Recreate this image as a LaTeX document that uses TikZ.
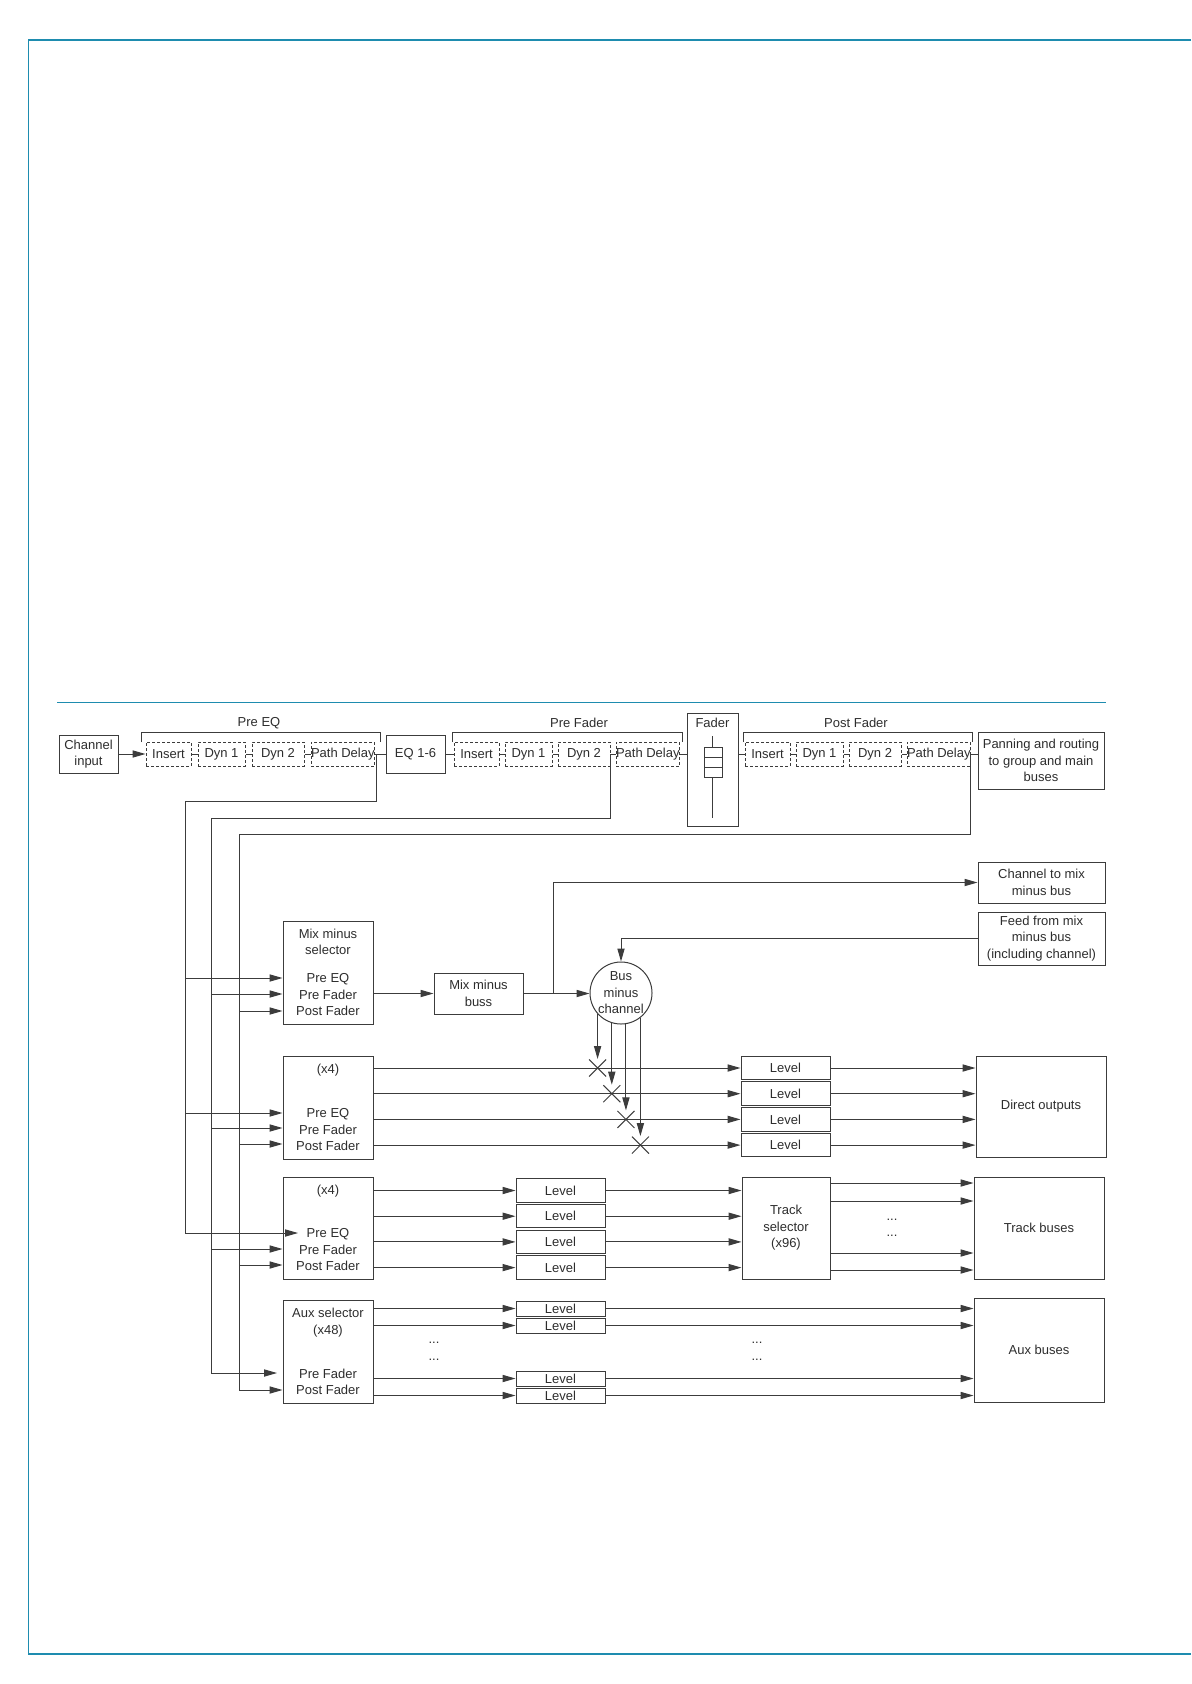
\documentclass[tikz,border=0pt]{standalone}
\usepackage{fontspec}
\setmainfont{Liberation Sans}
\usepackage{xcolor}
\usepackage{tikz}
\usetikzlibrary{positioning,arrows.meta,calc}
\definecolor{frameblue}{RGB}{30,140,175}
\definecolor{linegray}{RGB}{60,60,60}
\definecolor{textgray}{RGB}{45,45,45}
\newcommand{\blockfont}{\fontsize{6.5pt}{8.25pt}\selectfont}
\tikzset{
  block-node/.style={draw=linegray, line width=0.5pt, font=\blockfont, text=textgray,
    align=center, inner sep=0pt},
  insert-node/.style={draw=linegray, line width=0.5pt, dash pattern=on 1.5pt off 1pt,
    font=\blockfont, text=textgray, minimum height=12pt, inner sep=0pt},
  level-node/.style={block-node, minimum width=44.5pt, minimum height=11.75pt},
  small-level-node/.style={block-node, minimum width=44.5pt, minimum height=7.5pt},
  selector-node/.style={block-node, minimum width=45pt, minimum height=51.5pt},
  bus-node/.style={block-node, minimum width=65pt, minimum height=51pt},
  label-text/.style={font=\blockfont, text=textgray, inner sep=0pt},
  flow-arrow/.style={-{Triangle[length=6.5pt, width=3.6pt]}, line width=0.5pt, draw=linegray},
  plain-line/.style={line width=0.5pt, draw=linegray},
  frame-line/.style={draw=frameblue, line width=0.6pt}
}

\begin{document}
\begin{tikzpicture}[x=0.5pt, y=-0.5pt]
\useasboundingbox (0,0) rectangle (1191,1684);

% Page frame and rule
\draw[frame-line] (1191,40) -- (28,40);
\draw[frame-line, line width=0.4pt] (28,40) -- (28,1654);
\draw[frame-line] (28,1654) -- (1191,1654);
\draw[frame-line, line width=0.5pt] (57,702) -- (1106,702);

% Top row: processing chain
\node[block-node, minimum width=29.5pt, minimum height=19pt] (chin) at (88.5,754) {Channel\\input};

\node[insert-node, minimum width=22.5pt] (ins-a) at (168.5,754) {Insert};
\node[insert-node, minimum width=23.5pt, right=3pt of ins-a] (dyn1-a) {Dyn 1};
\node[insert-node, minimum width=26pt, right=3pt of dyn1-a] (dyn2-a) {Dyn 2};
\node[insert-node, minimum width=31.5pt, right=3pt of dyn2-a] (delay-a) {Path Delay};

\node[block-node, minimum width=29.5pt, minimum height=19pt] (eq) at (415.5,754) {EQ 1-6};

\node[insert-node, minimum width=22.5pt] (ins-b) at (476.5,754) {Insert};
\node[insert-node, minimum width=23.5pt, right=2.5pt of ins-b] (dyn1-b) {Dyn 1};
\node[insert-node, minimum width=26pt, right=2.5pt of dyn1-b] (dyn2-b) {Dyn 2};
\node[insert-node, minimum width=31.5pt, right=2.5pt of dyn2-b] (delay-b) {Path Delay};

\node[block-node, minimum width=25.5pt, minimum height=56.5pt] (fader) at (712.5,769.5) {};
\node[label-text] (fader-label) at (712.5,723) {Fader};

\node[insert-node, minimum width=22.5pt] (ins-c) at (767.5,754) {Insert};
\node[insert-node, minimum width=23.5pt, right=2.5pt of ins-c] (dyn1-c) {Dyn 1};
\node[insert-node, minimum width=26pt, right=2.5pt of dyn1-c] (dyn2-c) {Dyn 2};
\node[insert-node, minimum width=31.5pt, right=2.5pt of dyn2-c] (delay-c) {Path Delay};

\node[block-node, minimum width=63pt, minimum height=28.5pt] (pan) at (1041,760.5)
  {Panning and routing\\to group and main\\buses};

% Group brackets
\draw[plain-line] (141,742) -- (141,732) -- (380,732) -- (380,742);
\draw[plain-line] (452,742) -- (452,732) -- (682,732) -- (682,742);
\draw[plain-line] (743,742) -- (743,732) -- (972,732) -- (972,742);
\node[label-text] (pre-eq-label) at (259,723) {Pre EQ};
\node[label-text] (pre-fader-label) at (579,723) {Pre Fader};
\node[label-text] (post-fader-label) at (856,723) {Post Fader};

% Fader slider
\draw[plain-line] (712,736) -- (712,818);
\draw[plain-line, fill=white] (704,747) rectangle (722,777);
\draw[plain-line] (704,757) -- (722,757) (704,767) -- (722,767);

% Chain links
\draw[flow-arrow] (chin.east) -- (ins-a.west);
\draw[plain-line] (ins-a) -- (dyn1-a) -- (dyn2-a) -- (delay-a) -- (eq);
\draw[plain-line] (eq) -- (ins-b) -- (dyn1-b) -- (dyn2-b) -- (delay-b);
\draw[plain-line] (delay-b.east) -- (delay-b.east -| fader.west);
\draw[plain-line] (fader.east |- ins-c) -- (ins-c.west);
\draw[plain-line] (ins-c) -- (dyn1-c) -- (dyn2-c) -- (delay-c);
\draw[plain-line] (delay-c.east) -- (delay-c.east -| pan.west);

% Tap points and feed lines
\coordinate (tap-a) at (376,754);
\coordinate (tap-b) at (610,754);
\coordinate (tap-c) at (970,754);
\coordinate (bus-a) at (185,801);
\coordinate (bus-b) at (211,818);
\coordinate (bus-c) at (239,834);
\coordinate (track-preeq) at (298,1233);
\coordinate (aux-prefader) at (277,1373);

% Selector boxes
\node[selector-node] (mm-select) at (328,972.5)
  {Mix minus\\selector\\[5.75pt]Pre EQ\\Pre Fader\\Post Fader};
\node[selector-node] (direct-select) at (328,1107.5)
  {(x4)\\[13.75pt]Pre EQ\\Pre Fader\\Post Fader};
\node[selector-node, minimum height=51pt] (track-select) at (328,1228)
  {(x4)\\[13.25pt]Pre EQ\\Pre Fader\\Post Fader};
\node[selector-node] (aux-select) at (328,1351.5)
  {Aux selector\\(x48)\\[13.75pt]Pre Fader\\Post Fader};

\draw[flow-arrow] (tap-a) |- (bus-a) |- (track-preeq);
\draw[flow-arrow] (tap-b) |- (bus-b) |- (aux-prefader);
\draw[flow-arrow] (tap-c) |- (bus-c) |- (aux-select.west |- 0,1390);

\foreach \sel/\ya/\yb/\yc in {mm-select/978/994/1011, direct-select/1113/1128/1144} {
  \draw[flow-arrow] (bus-a |- 0,\ya) -- (\sel.west |- 0,\ya);
  \draw[flow-arrow] (bus-b |- 0,\yb) -- (\sel.west |- 0,\yb);
  \draw[flow-arrow] (bus-c |- 0,\yc) -- (\sel.west |- 0,\yc);
}
\draw[flow-arrow] (bus-b |- 0,1249) -- (track-select.west |- 0,1249);
\draw[flow-arrow] (bus-c |- 0,1265) -- (track-select.west |- 0,1265);

% Mix minus section
\node[block-node, minimum width=44.5pt, minimum height=20.5pt] (mm-buss) at (478.5,993.5) {Mix minus\\buss};
\node[block-node, circle, minimum size=31pt] (bus-minus) at (621,993) {Bus\\minus\\channel};
\node[block-node, minimum width=63.5pt, minimum height=20.5pt] (to-mm) at (1041.5,882.5) {Channel to mix\\minus bus};
\node[block-node, minimum width=63.5pt, minimum height=26.5pt] (from-mm) at (1041.5,938.5)
  {Feed from mix\\minus bus\\(including channel)};
\coordinate (mm-split) at (553,993.5);

\draw[flow-arrow] (mm-select.east |- mm-buss) -- (mm-buss.west);
\draw[flow-arrow] (mm-buss.east) -- (mm-buss.east -| bus-minus.west);
\draw[flow-arrow] (mm-split) |- (to-mm.west);
\draw[flow-arrow] (from-mm.west) -| (bus-minus.north);

% Direct outputs
\node[level-node] (direct-level-1) at (785.5,1068) {Level};
\node[level-node, below=0.6pt of direct-level-1] (direct-level-2) {Level};
\node[level-node, below=0.6pt of direct-level-2] (direct-level-3) {Level};
\node[level-node, below=0.6pt of direct-level-3] (direct-level-4) {Level};
\node[bus-node, minimum height=50.5pt] (direct-out) at (1041,1106.5) {Direct outputs};

\foreach \i in {1,...,4} {
  \draw[flow-arrow] (direct-select.east |- direct-level-\i) -- (direct-level-\i.west);
  \draw[flow-arrow] (direct-level-\i.east) -- (direct-level-\i.east -| direct-out.west);
}

% Mix minus cut points
\foreach \ang [count=\i] in {222,253,279,308} {
  \coordinate (cut-\i) at (bus-minus.\ang |- direct-level-\i);
  \draw[flow-arrow] (bus-minus.\ang) -- ($(cut-\i)+(0,-9)$);
  \draw[plain-line] ($(cut-\i)+(-8.5,-8.5)$) -- ($(cut-\i)+(8.5,8.5)$)
    ($(cut-\i)+(-8.5,8.5)$) -- ($(cut-\i)+(8.5,-8.5)$);
}

% Track buses
\node[level-node] (track-level-1) at (560.5,1190.5) {Level};
\node[level-node, below=0.6pt of track-level-1] (track-level-2) {Level};
\node[level-node, below=0.6pt of track-level-2] (track-level-3) {Level};
\node[level-node, below=0.6pt of track-level-3] (track-level-4) {Level};
\node[block-node, minimum width=44pt, minimum height=51pt] (track-router) at (786,1228) {Track\\selector\\(x96)};
\node[bus-node] (track-bus) at (1039,1228) {Track buses};

\foreach \i in {1,...,4} {
  \draw[flow-arrow] (track-select.east |- track-level-\i) -- (track-level-\i.west);
  \draw[flow-arrow] (track-level-\i.east) -- (track-level-\i.east -| track-router.west);
}
\foreach \y in {1183,1201,1253,1270}
  \draw[flow-arrow] (track-router.east |- 0,\y) -- (track-bus.west |- 0,\y);
\node[label-text] (track-dots-1) at (892,1220) {...};
\node[label-text] (track-dots-2) at (892,1236) {...};

% Aux buses
\node[small-level-node] (aux-level-1) at (560.5,1308.5) {Level};
\node[small-level-node, below=0.5pt of aux-level-1] (aux-level-2) {Level};
\node[small-level-node] (aux-level-3) at (560.5,1378.5) {Level};
\node[small-level-node, below=0.5pt of aux-level-3] (aux-level-4) {Level};
\node[bus-node, minimum height=52pt] (aux-bus) at (1039,1350) {Aux buses};

\foreach \i in {1,...,4} {
  \draw[flow-arrow] (aux-select.east |- aux-level-\i) -- (aux-level-\i.west);
  \draw[flow-arrow] (aux-level-\i.east) -- (aux-level-\i.east -| aux-bus.west);
}
\node[label-text] (aux-dots-1) at (434,1343) {...};
\node[label-text] (aux-dots-2) at (434,1360) {...};
\node[label-text] (aux-dots-3) at (757,1343) {...};
\node[label-text] (aux-dots-4) at (757,1360) {...};
\end{tikzpicture}
\end{document}
